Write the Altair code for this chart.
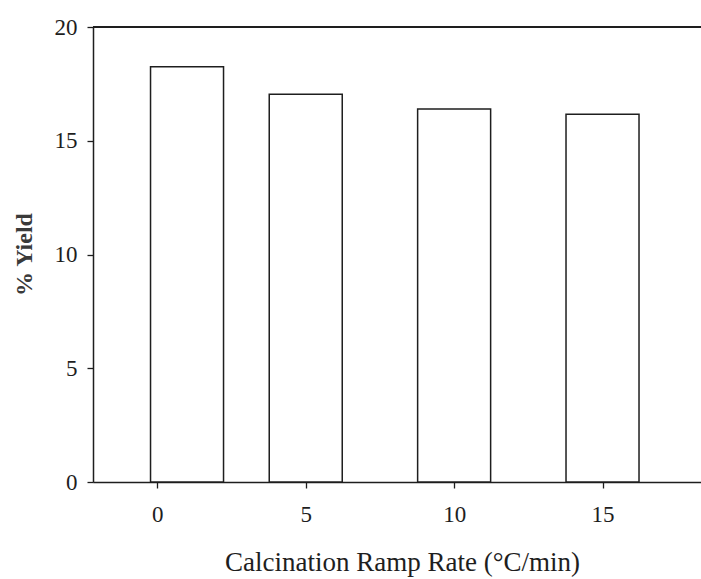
import altair as alt
import pandas as pd

# Data
rates = [1, 5, 10, 15]
yields = [18.25, 17.04, 16.40, 16.16]
x_ticks = [0, 5, 10, 15]
y_ticks = [0, 5, 10, 15, 20]

df = pd.DataFrame({"rate": rates, "yield": yields})

FONT = "Liberation Serif"
INK = "#1e1e1e"

x_axis = alt.Axis(
    values=x_ticks, title="Calcination Ramp Rate (°C/min)", grid=False,
    labelFont=FONT, labelFontSize=23, labelColor=INK, labelPadding=15,
    tickColor=INK, tickSize=6, tickWidth=1.3, domainColor=INK, domainWidth=1.5,
    titleFont=FONT, titleFontSize=27, titleFontWeight="normal", titleColor=INK,
    titleBaseline="alphabetic", titleY=88, titleX=309,
)
y_axis = alt.Axis(
    values=y_ticks, title="% Yield", grid=False,
    labelFont=FONT, labelFontSize=23, labelColor=INK, labelPadding=10,
    tickColor=INK, tickSize=6, tickWidth=1.3, domainColor=INK, domainWidth=1.5,
    titleFont=FONT, titleFontSize=24, titleFontWeight="bold", titleColor="#3a3a3a",
    titleAngle=270, titleAlign="center", titleBaseline="middle",
    titleX=-69, titleY=227,
)

x_scale = alt.Scale(domain=[-2, 18.15], nice=False, zero=False)
y_scale = alt.Scale(domain=[0, 20], nice=False)

bars = alt.Chart(df).mark_bar(
    size=73, fill="white", stroke=INK, strokeWidth=1.5
).encode(
    x=alt.X("rate:Q", scale=x_scale, axis=x_axis),
    y=alt.Y("yield:Q", scale=y_scale, axis=y_axis),
)

top = alt.Chart(df).mark_rule(color=INK, strokeWidth=1.5).encode(
    y=alt.datum(20, scale=y_scale),
)

chart = alt.layer(bars, top).properties(
    width=608,
    height=455,
    autosize=alt.AutoSizeParams(type="none"),
    padding={"left": 93, "top": 27, "right": 0, "bottom": 97},
).configure_view(stroke=None).configure(background="white")

chart.save("out.html", embed_options={"renderer": "svg", "actions": False})
